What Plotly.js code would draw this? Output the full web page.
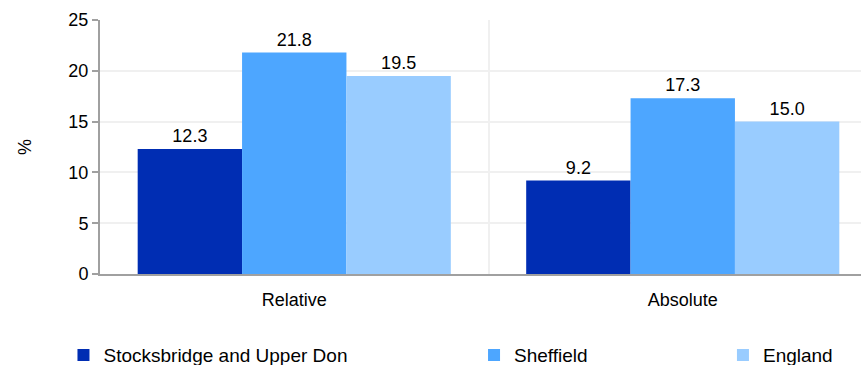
<!DOCTYPE html>
<html>
<head>
<meta charset="utf-8">
<script src="https://cdn.plot.ly/plotly-3.0.1.min.js"></script>
<style>html,body{margin:0;padding:0;background:#fff;}#chart{width:861px;height:365px;}</style>
</head>
<body>
<div id="chart"></div>
<script>
const categories = ["Relative", "Absolute"];
const seriesNames = ["Stocksbridge and Upper Don", "Sheffield", "England"];
const stocksbridge = [12.3, 9.2];
const sheffield = [21.8, 17.3];
const england = [19.5, 15.0];
const yTicks = [0, 5, 10, 15, 20, 25];

const colors = ["#002db3", "#4da6ff", "#99ccff"];
const seriesValues = [stocksbridge, sheffield, england];
const legendIds = ["legend", "legend2", "legend3"];
const FONT = "Liberation Sans, Arial, sans-serif";

const traces = seriesValues.map((vals, i) => ({
  type: "bar",
  name: seriesNames[i],
  x: categories,
  y: vals,
  marker: {color: colors[i], line: {width: 0}},
  text: vals.map(v => v.toFixed(1)),
  textposition: "outside",
  cliponaxis: false,
  textfont: {family: FONT, size: 18, color: "#000"},
  hoverinfo: "skip",
  legend: legendIds[i]
}));

const legendBase = {
  orientation: "h",
  yref: "container",
  yanchor: "middle",
  y: 0.027,
  xanchor: "left",
  font: {family: FONT, size: 19, color: "#000"},
  bgcolor: "rgba(0,0,0,0)"
};

const layout = {
  width: 861,
  height: 365,
  margin: {l: 100, r: 0, t: 20, b: 91},
  paper_bgcolor: "#fff",
  plot_bgcolor: "#fff",
  font: {family: FONT, size: 18, color: "#000"},
  barmode: "group",
  bargap: 0.194,
  bargroupgap: 0,
  xaxis: {
    type: "category",
    range: [-0.5, 1.4588],
    tickson: "boundaries",
    showgrid: true,
    gridcolor: "#f0f0f0",
    gridwidth: 2,
    ticks: "",
    showline: true,
    linecolor: "#a0a0a0",
    linewidth: 2,
    tickfont: {family: FONT, size: 18, color: "#000"},
    ticklabelstandoff: 8,
    zeroline: false
  },
  yaxis: {
    range: [0, 25],
    tickvals: yTicks,
    ticktext: yTicks.map(String),
    showgrid: true,
    gridcolor: "#f0f0f0",
    gridwidth: 2,
    zeroline: false,
    showline: true,
    linecolor: "#a0a0a0",
    linewidth: 2,
    ticks: "outside",
    ticklen: 6,
    tickwidth: 2,
    tickcolor: "#a0a0a0",
    tickfont: {family: FONT, size: 18, color: "#000"},
    title: {text: "%", font: {family: FONT, size: 18, color: "#000"}, standoff: 32}
  },
  showlegend: true,
  legend: Object.assign({}, legendBase, {x: -0.048}),
  legend2: Object.assign({}, legendBase, {x: 0.4915}),
  legend3: Object.assign({}, legendBase, {x: 0.8186})
};

Plotly.newPlot("chart", traces, layout, {displayModeBar: false, staticPlot: true});
</script>
</body>
</html>
